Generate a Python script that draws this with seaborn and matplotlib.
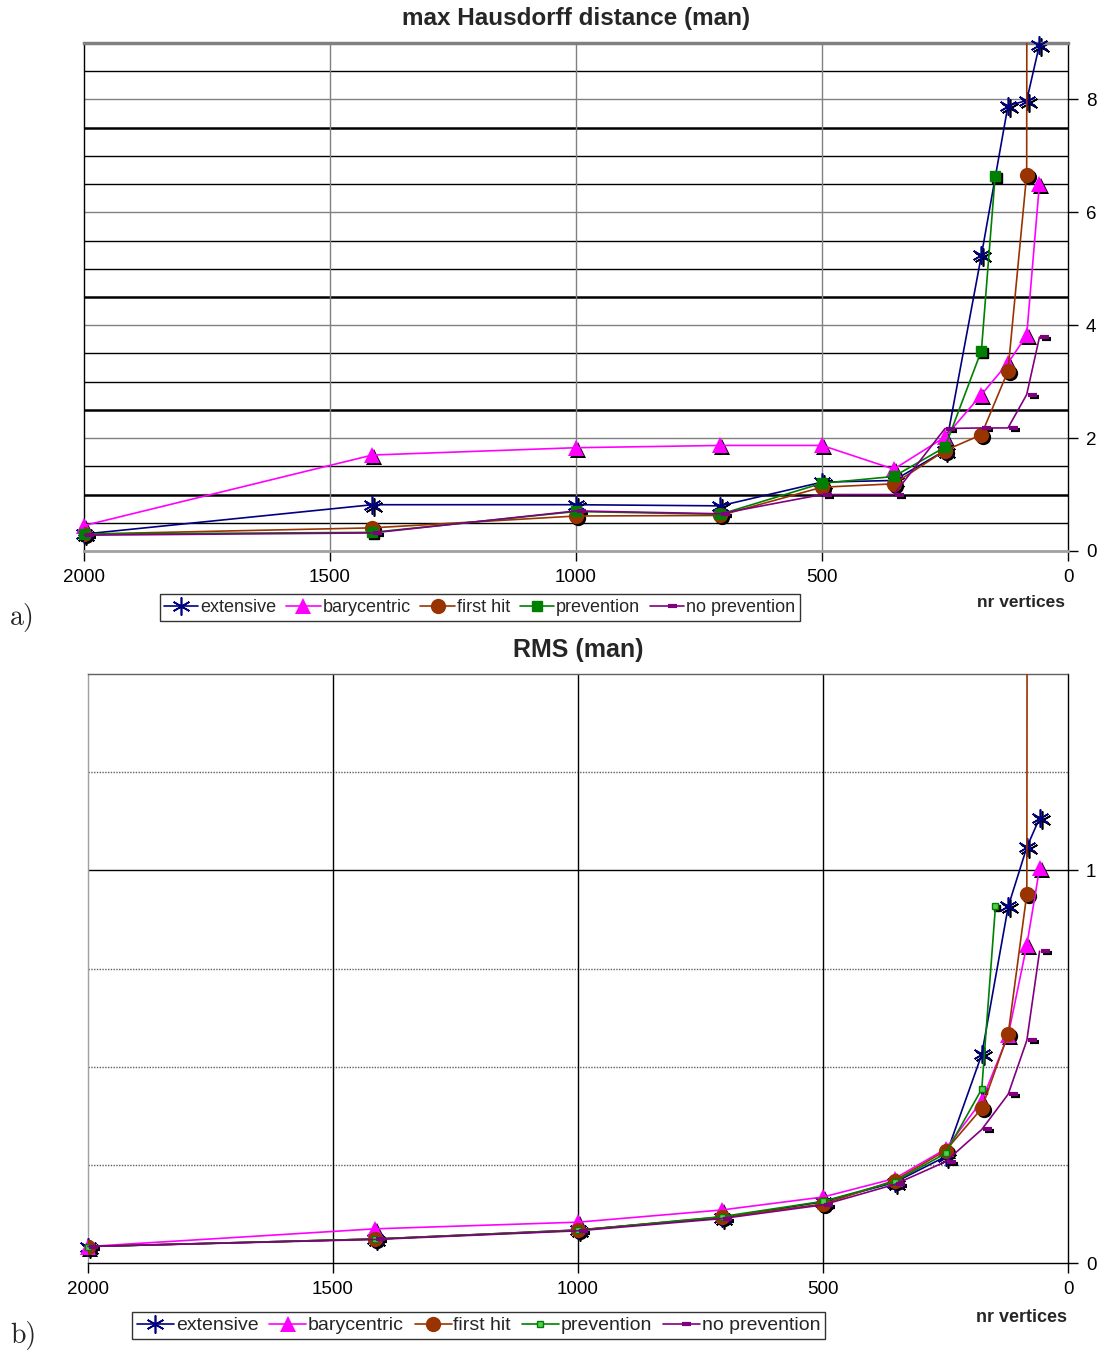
import numpy as np
import pandas as pd
import seaborn as sns
import matplotlib.pyplot as plt
from matplotlib.path import Path
from matplotlib.transforms import offset_copy

sns.set_theme(style="white")
plt.rcParams['font.family'] = ['Liberation Sans', 'DejaVu Sans']

# shared vertex counts
verts = [2000, 1414, 1000, 707, 500, 354, 250, 176, 122, 84, 58]
verts_brown = [2000, 1414, 1000, 707, 500, 354, 250, 176, 122, 84, 80]
verts_green = [2000, 1414, 1000, 707, 500, 354, 250, 176, 148]

# max Hausdorff distance
hd_extensive = [0.30, 0.82, 0.82, 0.80, 1.22, 1.25, 1.78, 5.24, 7.89, 7.98, 8.97]
hd_bary = [0.45, 1.70, 1.83, 1.87, 1.87, 1.45, 2.02, 2.77, 3.33, 3.82, 6.51]
hd_first = [0.30, 0.41, 0.62, 0.63, 1.13, 1.19, 1.78, 2.06, 3.19, 6.67, 40.0]
hd_prev = [0.30, 0.33, 0.70, 0.65, 1.20, 1.32, 1.84, 3.55, 6.65]
hd_noprev = [0.28, 0.32, 0.71, 0.66, 1.00, 1.00, 2.17, 2.18, 2.18, 2.77, 3.79]

# RMS
rms_extensive = [0.042, 0.061, 0.084, 0.115, 0.156, 0.205, 0.271, 0.531, 0.908, 1.059, 1.133]
rms_bary = [0.042, 0.087, 0.104, 0.135, 0.168, 0.215, 0.290, 0.413, 0.580, 0.810, 1.005]
rms_first = [0.042, 0.061, 0.084, 0.117, 0.150, 0.210, 0.286, 0.394, 0.584, 0.940, 6.0]
rms_prev = [0.042, 0.061, 0.083, 0.118, 0.157, 0.207, 0.279, 0.443, 0.909]
rms_noprev = [0.042, 0.060, 0.082, 0.113, 0.148, 0.200, 0.258, 0.340, 0.430, 0.567, 0.794]

names = ["extensive", "barycentric", "first hit", "prevention", "no prevention"]
colors = ["#000080", "#FF00FF", "#993300", "#008000", "#800080"]
dash = Path([(0.15, 0), (1.0, 0)], [Path.MOVETO, Path.LINETO])

fig = plt.figure(figsize=(11, 13.54), dpi=100)
ax1 = fig.add_axes([84/1100, 1-551/1354, 984/1100, 508/1354])
ax2 = fig.add_axes([88/1100, 1-1263/1354, 980/1100, 589/1354])


def draw(ax, series, big_sq):
    styles = [
        dict(marker=(6, 2, 0), ms=13, mew=1.2),
        dict(marker="^", ms=11, mew=0),
        dict(marker="o", ms=11, mew=0),
        dict(marker="s", ms=big_sq, mew=1),
        dict(marker=dash, ms=14, mew=3),
    ]
    shadow = offset_copy(ax.transData, fig=fig, x=2, y=-2, units="dots")
    for (x, y), name, c, st in zip(series, names, colors, styles):
        # only the runaway "first hit" series needs clipping at the frame
        clip = name == "first hit"
        ax.plot(x, y, linestyle="", color="black", marker=st["marker"],
                ms=st["ms"], mew=st["mew"], mec="black", transform=shadow,
                clip_on=clip, zorder=2)
        fc = c
        if name == "prevention" and big_sq < 6:
            fc = "#55cc55"
        df = pd.DataFrame({"v": x, "val": y})
        sns.lineplot(data=df, x="v", y="val", ax=ax, color=c, lw=1.2,
                     marker=st["marker"], markersize=st["ms"], mew=st["mew"],
                     mec=c, mfc=fc, label=name, estimator=None, sort=False,
                     clip_on=clip, zorder=3)
    ax.get_legend().remove()
    ax.set_xlim(2000, 0)
    ax.set_xticks([2000, 1500, 1000, 500, 0])
    ax.set_xlabel("")
    ax.set_ylabel("")
    ax.yaxis.tick_right()
    ax.tick_params(axis="both", which="major", direction="out", length=7,
                   width=1, colors="black", labelsize=13.5, pad=6,
                   bottom=True, right=True, left=False)
    for s in ax.spines.values():
        s.set_color("black")
        s.set_linewidth(1)


draw(ax1, [(verts, hd_extensive), (verts, hd_bary), (verts_brown, hd_first),
           (verts_green, hd_prev), (verts, hd_noprev)], 6.5)
ax1.set_ylim(0, 9)
ax1.set_yticks([0, 2, 4, 6, 8])
for v in np.arange(0.5, 9.0, 0.5):
    lw = 1.8 if v in (1.0, 2.5, 4.5, 7.5) else 1.0
    col = "#808080" if v in (2, 4, 6, 8) else "black"
    ax1.axhline(v, color=col, lw=lw, zorder=0)
for v in (500, 1000, 1500):
    ax1.axvline(v, color="#808080", lw=1, zorder=0)
ax1.spines["top"].set_color("#808080")
ax1.spines["top"].set_linewidth(2.5)
ax1.spines["bottom"].set_color("#a0a0a0")
ax1.spines["bottom"].set_linewidth(2)
ax1.set_title("max Hausdorff distance (man)", fontsize=17.5,
              fontweight="bold", pad=13)

draw(ax2, [(verts, rms_extensive), (verts, rms_bary), (verts_brown, rms_first),
           (verts_green, rms_prev), (verts, rms_noprev)], 5)
ax2.set_ylim(0, 1.5)
ax2.set_yticks([0, 1])
for v in (0.25, 0.5, 0.75, 1.25):
    ax2.axhline(v, color="#606060", lw=1, ls=(0, (1, 1)), zorder=0)
ax2.axhline(1.0, color="black", lw=1, zorder=0)
for v in (500, 1000, 1500):
    ax2.axvline(v, color="black", lw=1, zorder=0)
ax2.spines["top"].set_color("#606060")
ax2.spines["top"].set_linestyle((0, (1, 1)))
ax2.spines["left"].set_color("#a0a0a0")
ax2.set_title("RMS (man)", fontsize=18, fontweight="bold", pad=12)

handles, labels = ax1.get_legend_handles_labels()
leg_kw = dict(ncol=5, loc="center", fontsize=13, frameon=True,
              fancybox=False, edgecolor="black", handlelength=1.9,
              handletextpad=0.1, columnspacing=0.55, borderpad=0.25,
              borderaxespad=0)
leg1 = fig.legend(handles, labels, bbox_to_anchor=(0.436, 1-607.5/1354), **leg_kw)
leg1.get_frame().set_linewidth(1)
handles2, labels2 = ax2.get_legend_handles_labels()
leg_kw["fontsize"] = 14
leg2 = fig.legend(handles2, labels2, bbox_to_anchor=(0.435, 1-1325.5/1354), **leg_kw)
leg2.get_frame().set_linewidth(1)

fig.text(1065/1100, 1-603/1354, "nr vertices", ha="right", va="center",
         fontsize=12.5, fontweight="bold")
fig.text(1067/1100, 1-1318/1354, "nr vertices", ha="right", va="center",
         fontsize=13, fontweight="bold")
fig.text(10/1100, 1-617/1354, "a)", ha="left", va="center", fontsize=20,
         family=["cmr10", "DejaVu Serif"])
fig.text(10/1100, 1-1335/1354, "b)", ha="left", va="center", fontsize=20,
         family=["cmr10", "DejaVu Serif"])

fig.savefig("out.png", dpi=100)
